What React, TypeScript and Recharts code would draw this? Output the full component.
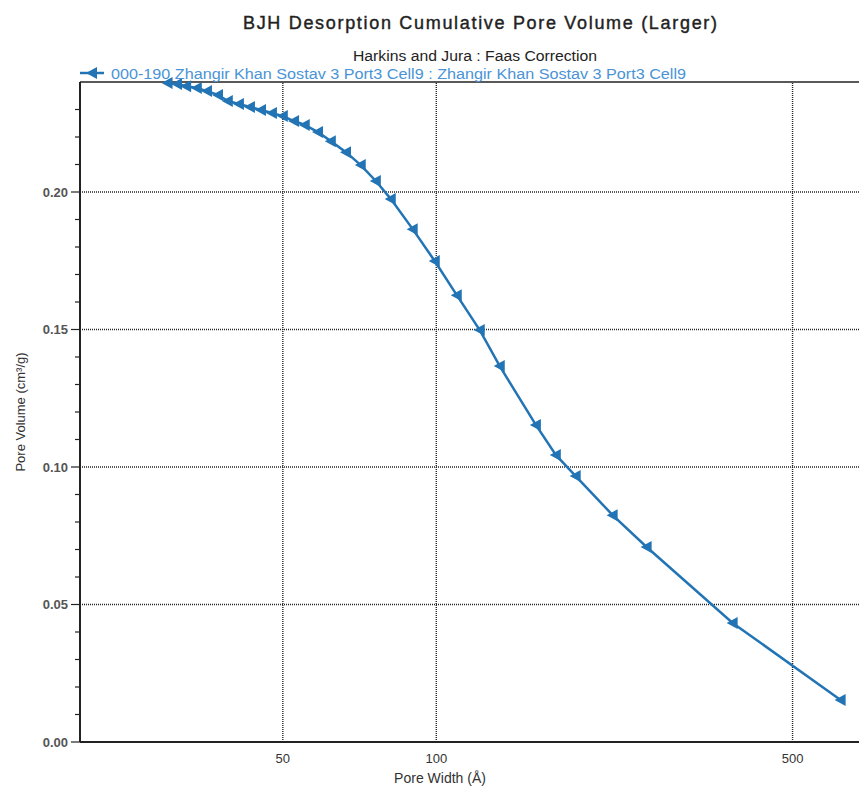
import { LineChart, Line, XAxis, YAxis, ReferenceLine } from "recharts";

const poreWidths = [
  29.7, 31.0, 32.3, 33.9, 35.5, 37.3, 39.0, 41.0, 43.1, 45.3, 47.6, 50.0, 52.6, 55.2, 58.6, 62.1,
  66.5, 71.1, 76.1, 81.4, 89.9, 99.3, 109.7, 121.7, 133.2, 156.8, 171.6, 187.7, 221.8, 258.6, 381.4, 621.2,
];
const poreVolumes = [
  0.2396, 0.2393, 0.2385, 0.2378, 0.2367, 0.2353, 0.2331, 0.232, 0.2309, 0.2298, 0.2287, 0.2276, 0.2258,
  0.2244, 0.2218, 0.2185, 0.2145, 0.2098, 0.204, 0.1975, 0.1865, 0.1749, 0.1625, 0.1498, 0.1367, 0.1153,
  0.1044, 0.0967, 0.0825, 0.0709, 0.0433, 0.0153,
];
const xTicks = [50, 100, 500];
const yTicks = [
  0, 0.01, 0.02, 0.03, 0.04, 0.05, 0.06, 0.07, 0.08, 0.09, 0.1, 0.11, 0.12, 0.13, 0.14, 0.15, 0.16, 0.17,
  0.18, 0.19, 0.2, 0.21, 0.22, 0.23, 0.24,
];
const gridY = [0.05, 0.1, 0.15, 0.2];

const data = poreWidths.map((w, i) => ({ width: w, volume: poreVolumes[i] }));

const BLUE = "#2274b4";
const FONT = "'Liberation Sans', Arial, sans-serif";

function YTick(props: any) {
  const { x, y, payload } = props;
  const v = payload.value;
  const major = Math.round(v * 100) % 5 === 0;
  const axisX = x + 12;
  if (Math.round(v * 100) === 24) return <g />;
  return (
    <g>
      <line x1={axisX - (major ? 9 : 5)} x2={axisX} y1={y} y2={y} stroke="#222" strokeWidth={1.2} />
      {major && (
        <text x={x} y={y} dy="0.35em" textAnchor="end" fontSize={13} fontWeight="bold" fill="#555" fontFamily={FONT}>
          {v.toFixed(2)}
        </text>
      )}
    </g>
  );
}

function TriangleDot(props: any) {
  const { cx, cy, index } = props;
  if (cx == null || cy == null) return <g key={index} />;
  return <path key={index} d={`M${cx - 6},${cy} L${cx + 5},${cy - 6} L${cx + 5},${cy + 6} Z`} fill={BLUE} />;
}

export default function App() {
  return (
    <div style={{ position: "absolute", left: 0, top: 0, width: 859, height: 791, background: "#fff", fontFamily: FONT }}>
      <LineChart width={859} height={791} data={data} margin={{ top: 82, right: 0, bottom: 0, left: 0 }}>
        <XAxis
          dataKey="width"
          type="number"
          scale="log"
          domain={[20, 675]}
          allowDataOverflow
          ticks={xTicks}
          tickLine={false}
          tickSize={0}
          tickMargin={12}
          height={49}
          axisLine={{ stroke: "#222", strokeWidth: 2 }}
          tick={{ fill: "#333", fontSize: 13, fontFamily: FONT }}
        />
        <YAxis
          type="number"
          domain={[0, 0.24]}
          ticks={yTicks}
          interval={0}
          width={80}
          tickSize={8}
          tickMargin={4}
          tickLine={false}
          axisLine={{ stroke: "#222", strokeWidth: 2 }}
          tick={<YTick />}
        />
        {gridY.map((v) => (
          <ReferenceLine key={`h${v}`} y={v} stroke="#222" strokeWidth={1.4} strokeDasharray="1 1" />
        ))}
        {xTicks.map((v) => (
          <ReferenceLine key={`v${v}`} x={v} stroke="#222" strokeWidth={1.4} strokeDasharray="1 1" />
        ))}
        <ReferenceLine y={0.24} stroke="#222" strokeWidth={1.5} />
        <Line
          type="linear"
          dataKey="volume"
          stroke={BLUE}
          strokeWidth={2.5}
          dot={<TriangleDot />}
          isAnimationActive={false}
        />
      </LineChart>
      <svg width={859} height={791} style={{ position: "absolute", left: 0, top: 0, pointerEvents: "none" }}>
        <text
          x={480}
          y={29}
          textAnchor="middle"
          fontSize={18}
          fill="#222"
          stroke="#222"
          strokeWidth={0.4}
          textLength={474}
          lengthAdjust="spacing"
          fontFamily={FONT}
        >
          BJH Desorption Cumulative Pore Volume (Larger)
        </text>
        <text x={475} y={61} textAnchor="middle" fontSize={14} fill="#222" textLength={244} lengthAdjust="spacingAndGlyphs" fontFamily={FONT}>
          Harkins and Jura : Faas Correction
        </text>
        <line x1={80} x2={104} y1={73} y2={73} stroke={BLUE} strokeWidth={2.5} />
        <path d="M86,73 L97,67 L97,79 Z" fill={BLUE} />
        <text x={111} y={79} fontSize={14} fill="#4a93d6" textLength={575} lengthAdjust="spacingAndGlyphs" fontFamily={FONT}>
          000-190 Zhangir Khan Sostav 3 Port3 Cell9 : Zhangir Khan Sostav 3 Port3 Cell9
        </text>
        <text x={440} y={783} textAnchor="middle" fontSize={14} fill="#333" fontFamily={FONT}>
          Pore Width (Å)
        </text>
        <text
          x={0}
          y={0}
          transform="translate(25,412) rotate(-90)"
          textAnchor="middle"
          fontSize={13}
          fill="#333"
          fontFamily={FONT}
        >
          Pore Volume (cm³/g)
        </text>
      </svg>
    </div>
  );
}
